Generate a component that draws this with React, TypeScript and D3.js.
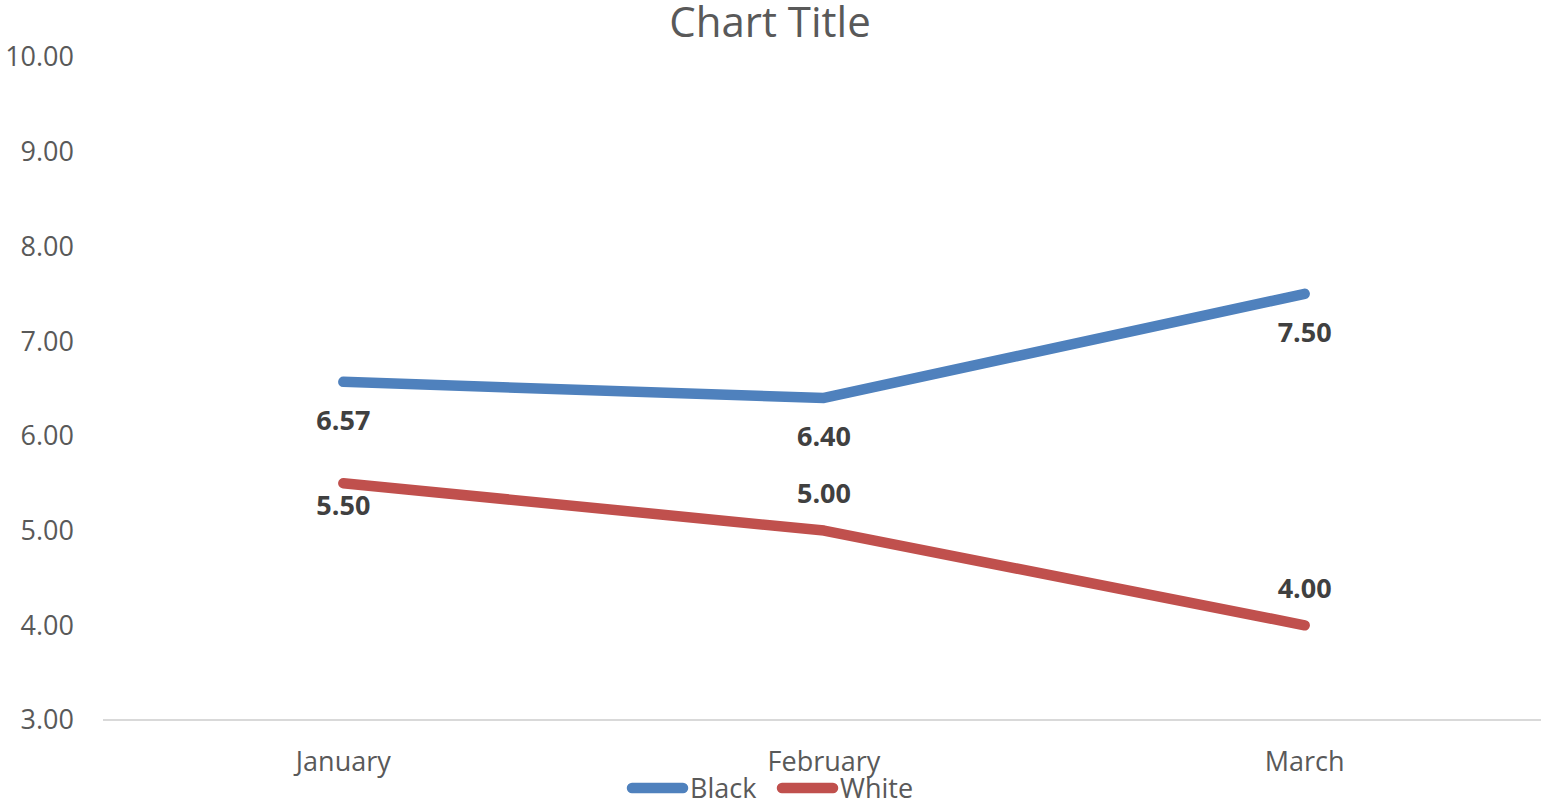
import { useEffect, useRef } from "react";
import * as d3 from "d3";

const W = 1541;
const H = 803;
const FONT = "'Open Sans', 'DejaVu Sans', sans-serif";

const categories = ["January", "February", "March"];
const black = [6.57, 6.4, 7.5];
const white = [5.5, 5.0, 4.0];
const yTicks = [3, 4, 5, 6, 7, 8, 9, 10];

// where each data label sits relative to its point
const blackLabelSide = ["below", "below", "below"];
const whiteLabelSide = ["near", "above", "above"];
const LABEL_OFFSET: Record<string, number> = { below: 39, near: 22, above: -37 };

const SERIES = [
  { name: "Black", values: black, color: "#4F81BD", side: blackLabelSide },
  { name: "White", values: white, color: "#C0504D", side: whiteLabelSide },
];

export default function App() {
  const ref = useRef<SVGSVGElement | null>(null);

  useEffect(() => {
    const svg = d3.select(ref.current);
    svg.selectAll("*").remove();

    const x = d3.scalePoint<string>().domain(categories).range([103, 1545]).padding(0.5);
    const y = d3.scaleLinear().domain([3, 10]).range([720, 57]);

    svg
      .append("text")
      .attr("x", 770)
      .attr("y", 37)
      .attr("text-anchor", "middle")
      .attr("font-family", FONT)
      .attr("font-size", 42)
      .attr("fill", "#595959")
      .text("Chart Title");

    // y tick labels
    svg
      .append("g")
      .selectAll("text")
      .data(yTicks)
      .join("text")
      .attr("x", 74)
      .attr("y", (d) => y(d))
      .attr("dy", "0.35em")
      .attr("text-anchor", "end")
      .attr("font-family", FONT)
      .attr("font-size", 27)
      .attr("fill", "#595959")
      .text((d) => d.toFixed(2));

    // baseline
    svg
      .append("line")
      .attr("x1", 103)
      .attr("x2", W)
      .attr("y1", y(3))
      .attr("y2", y(3))
      .attr("stroke", "#D9D9D9")
      .attr("stroke-width", 2);

    // category labels
    svg
      .append("g")
      .selectAll("text")
      .data(categories)
      .join("text")
      .attr("x", (d) => x(d)!)
      .attr("y", 771)
      .attr("text-anchor", "middle")
      .attr("font-family", FONT)
      .attr("font-size", 27)
      .attr("fill", "#595959")
      .text((d) => d);

    const line = d3
      .line<number>()
      .x((_d, i) => x(categories[i])!)
      .y((d) => y(d));

    SERIES.forEach((s) => {
      svg
        .append("path")
        .datum(s.values)
        .attr("d", line)
        .attr("fill", "none")
        .attr("stroke", s.color)
        .attr("stroke-width", 10.5)
        .attr("stroke-linecap", "round")
        .attr("stroke-linejoin", "round");

      svg
        .append("g")
        .selectAll("text")
        .data(s.values)
        .join("text")
        .attr("x", (_d, i) => x(categories[i])!)
        .attr("y", (d, i) => y(d) + LABEL_OFFSET[s.side[i]])
        .attr("dy", "0.35em")
        .attr("text-anchor", "middle")
        .attr("font-family", FONT)
        .attr("font-size", 27)
        .attr("font-weight", "bold")
        .attr("fill", "#404040")
        .text((d) => d.toFixed(2));
    });

    // legend
    const legendX = [627, 777];
    const lg = svg.append("g");
    SERIES.forEach((s, i) => {
      lg.append("line")
        .attr("x1", legendX[i] + 5)
        .attr("x2", legendX[i] + 56)
        .attr("y1", 788)
        .attr("y2", 788)
        .attr("stroke", s.color)
        .attr("stroke-width", 10.5)
        .attr("stroke-linecap", "round");
      lg.append("text")
        .attr("x", legendX[i] + 63)
        .attr("y", 798)
        .attr("font-family", FONT)
        .attr("font-size", 27)
        .attr("fill", "#595959")
        .text(s.name);
    });
  }, []);

  return (
    <svg
      ref={ref}
      width={W}
      height={H}
      style={{ position: "absolute", left: 0, top: 0, background: "#fff" }}
    />
  );
}
